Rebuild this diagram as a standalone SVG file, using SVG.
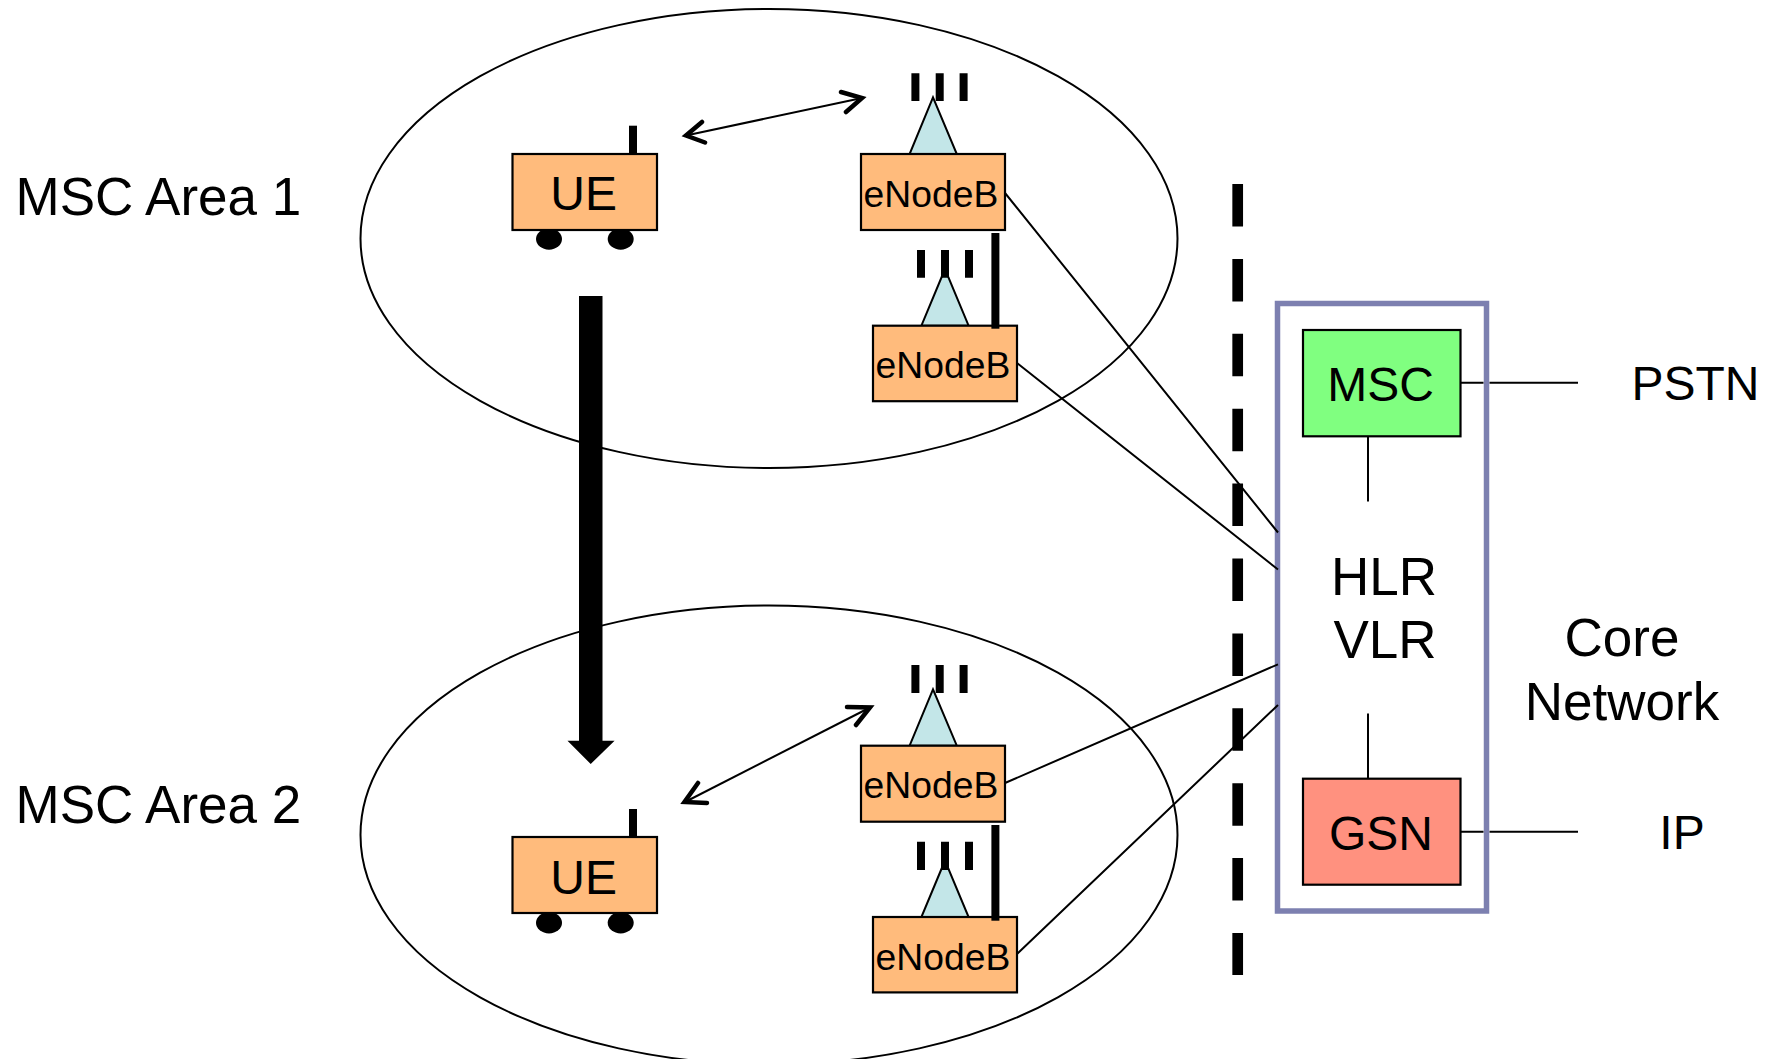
<svg xmlns="http://www.w3.org/2000/svg" width="1777" height="1059" viewBox="0 0 1777 1059">
<style>
text{font-family:"Liberation Sans",Arial,sans-serif;fill:#000}
.m{text-anchor:middle}
.s53{font-size:53px}.s48{font-size:48px}.s37{font-size:37.3px}
.box{stroke:#000;stroke-width:2.2}
.orange{fill:#ffbb7c}
.tri{fill:#c3e6e8;stroke:#000;stroke-width:2}
.area{fill:#fff;stroke:#000;stroke-width:2}
.ln{fill:none;stroke:#000;stroke-width:2}
.head{fill:none;stroke:#000;stroke-width:4.5;stroke-linecap:round}
</style>
<rect width="1777" height="1059" fill="#fff"/>
<g id="area1"><ellipse class="area" cx="769" cy="238.5" rx="408.5" ry="229.5"/></g>
<g id="area2"><ellipse class="area" cx="769" cy="835" rx="408.5" ry="229.5"/></g>
<g id="core-network"><rect x="1277.5" y="303.5" width="209" height="607.5" fill="none" stroke="#7d80b0" stroke-width="5.5"/></g>
<g id="connectors">
<path class="ln" d="M1005 193L1278 532.5M1017 363L1278 569.5M1005 783L1278 664.3M1017 954L1278 705"/>
<path class="ln" d="M1461 382.7H1483.5M1489.5 382.7H1578M1368 436.6V501.4M1368 713.5V778.7M1461 831.8H1483.5M1489.5 831.8H1578"/>
<path class="ln" d="M686 135.5L862 98"/>
<path class="head" d="M702 122L686 135.5L705 142.5M841 92L862 98L846 112"/>
<path class="ln" d="M685 802L870 707.5"/>
<path class="head" d="M698 783L684.5 802L707 803M847 707L870 707.5L856 725"/>
<path d="M579 296H602.5V740.7H614.6L590.7 764L567.5 740.7H579Z" fill="#000"/>
<path d="M1237.7 184V975" fill="none" stroke="#000" stroke-width="10.7" stroke-dasharray="42.5 32.4"/>
</g>
<g id="ue1">
<ellipse cx="549" cy="239" rx="13" ry="10.7"/><ellipse cx="620.7" cy="239" rx="13" ry="10.7"/>
<rect x="629" y="125.7" width="8" height="28.3"/>
<rect class="box orange" x="512.5" y="154" width="144.5" height="76"/>
<text class="m s48" x="583.6" y="210">UE</text>
</g>
<g id="ue2">
<ellipse cx="549" cy="922.7" rx="13" ry="10.7"/><ellipse cx="620.7" cy="922.7" rx="13" ry="10.7"/>
<rect x="629" y="809" width="8" height="28.3"/>
<rect class="box orange" x="512.5" y="837" width="144.5" height="76"/>
<text class="m s48" x="583.6" y="894">UE</text>
</g>
<g id="enodeb1">
<path class="tri" d="M933 97.3L909.6 154H956.8Z"/>
<path d="M911.4 73.3h8v27.7h-8zM935.7 73.3h8v27.7h-8zM959.6 73.3h8v27.7h-8z"/>
<rect class="box orange" x="861" y="154" width="144" height="76"/>
<text class="m s37" x="931" y="206.5">eNodeB</text>
</g>
<g id="enodeb2">
<path class="tri" d="M945 269L921.4 325.7H968.6Z"/>
<path d="M917 250h8v27.7h-8zM941 250h8v27.7h-8zM965 250h8v27.7h-8z"/>
<rect class="box orange" x="873" y="325.7" width="144" height="75.5"/>
<rect x="991.4" y="233" width="8" height="95.7"/>
<text class="m s37" x="943" y="377.5">eNodeB</text>
</g>
<g id="enodeb3">
<path class="tri" d="M933 689.3L909.6 745.7H956.8Z"/>
<path d="M911.4 665h8v28h-8zM935.7 665h8v28h-8zM959.6 665h8v28h-8z"/>
<rect class="box orange" x="861" y="745.7" width="144" height="76"/>
<text class="m s37" x="931" y="798">eNodeB</text>
</g>
<g id="enodeb4">
<path class="tri" d="M945 860.5L921.4 917H968.6Z"/>
<path d="M917 841.7h8v28.3h-8zM941 841.7h8v28.3h-8zM965 841.7h8v28.3h-8z"/>
<rect class="box orange" x="873" y="917" width="144" height="75.4"/>
<rect x="991.4" y="825" width="8" height="95.7"/>
<text class="m s37" x="943" y="970">eNodeB</text>
</g>
<g id="msc">
<rect class="box" x="1303" y="330" width="157.5" height="106.3" fill="#80ff80"/>
<text class="m s48" x="1380.7" y="401">MSC</text>
</g>
<g id="gsn">
<rect class="box" x="1303" y="778.7" width="157.5" height="106" fill="#ff917f"/>
<text class="m s48" x="1381" y="850.3">GSN</text>
</g>
<g id="hlr-vlr">
<text class="m s53" x="1384" y="594.5">HLR</text>
<text class="m s53" x="1385" y="658">VLR</text>
</g>
<g id="labels">
<text class="s53" x="15.5" y="214.5">MSC Area 1</text>
<text class="s53" x="15.5" y="823">MSC Area 2</text>
<text class="m s48" x="1695.5" y="400.4">PSTN</text>
<text class="m s48" x="1682" y="848.5">IP</text>
<text class="m s53" x="1622" y="656">Core</text>
<text class="m s53" x="1622" y="720">Network</text>
</g>
</svg>
